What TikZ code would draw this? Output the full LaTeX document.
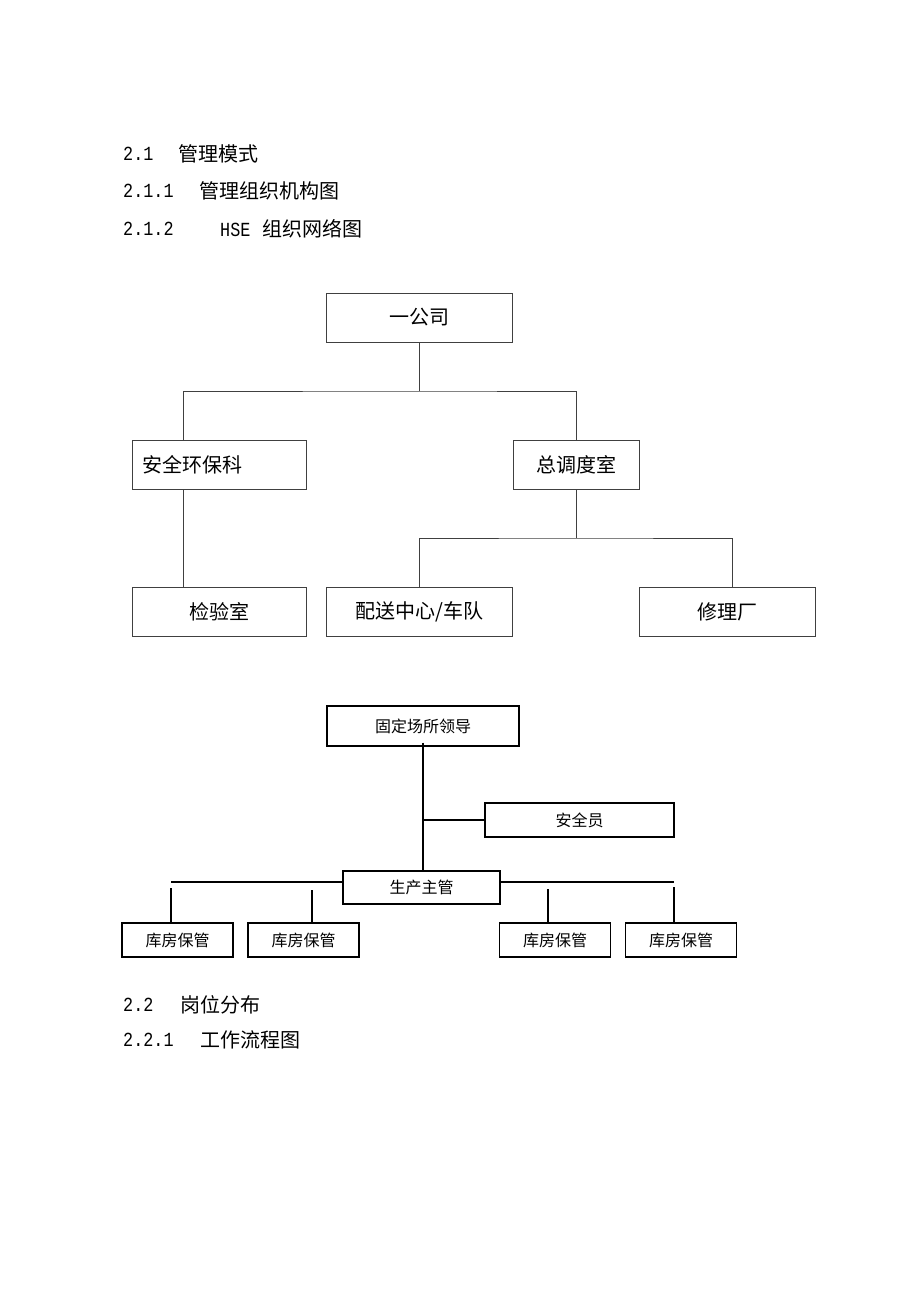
\documentclass[tikz,border=0pt]{standalone}
\usepackage{fontspec}
\setmainfont{Noto Sans CJK SC}
\newfontfamily\numfont[FakeStretch=0.84]{Liberation Mono}
\usepackage{tikz}
\usetikzlibrary{positioning}

\begin{document}
\begin{tikzpicture}[x=1pt, y=1pt, yscale=-1,
  head/.style={anchor=west, inner sep=0pt, font=\fontsize{20}{24}\selectfont},
  num/.style={anchor=west, inner sep=0pt, font=\numfont\fontsize{20}{24}\selectfont},
  boxa/.style={draw=black!75, line width=0.9pt, inner sep=0pt, minimum height=49pt, font=\fontsize{20}{24}\selectfont},
  boxb/.style={draw=black, line width=1.4pt, inner sep=0pt, font=\fontsize{16}{19}\selectfont},
  linka/.style={draw=black!75, line width=0.9pt},
  linkb/.style={draw=black, line width=1.4pt}]
\fill[white] (0,0) rectangle (920,1302);
\useasboundingbox (0,0) rectangle (920,1302);
\node[num] (n21) at (123,154) {2.1};
\node[head] (t21) at (178,154) {管理模式};
\node[num] (n211) at (123,191) {2.1.1};
\node[head] (t211) at (199,191) {管理组织机构图};
\node[num] (n212) at (123,229) {2.1.2};
\node[head] (t212) at (220,229) {{\numfont\fontsize{20}{24}\selectfont HSE}\hspace{12pt}组织网络图};
\node[num] (n22) at (123,1005) {2.2};
\node[head] (t22) at (180,1005) {岗位分布};
\node[num] (n221) at (123,1040) {2.2.1};
\node[head] (t221) at (200,1040) {工作流程图};
\node[boxa, minimum width=186pt] (gs) at (419.5,317.5) {一公司};
\node[boxa, text width=154pt, inner xsep=10pt, align=left] (aq) at (219,464.5) {安全环保科};
\node[boxa, minimum width=126pt] (zd) at (576,464.5) {总调度室};
\node[boxa, minimum width=174pt] (jy) at (219,612) {检验室};
\node[boxa, minimum width=186pt] (ps) at (419.5,612) {配送中心/车队};
\node[boxa, minimum width=176pt] (xl) at (727,612) {修理厂};
\coordinate (bus1) at (419.5,391);
\coordinate (bus2) at (576,538);
\draw[linka] (gs.south) -- (bus1);
\draw[linka] ([xshift=-35.5pt]aq.north) |- (bus1) -| (zd.north);
\draw[linka] ([xshift=-35.5pt]aq.south) -- ([xshift=-35.5pt]jy.north);
\draw[linka] (zd.south) -- (bus2);
\draw[linka] (ps.north) |- (bus2) -| ([xshift=5pt]xl.north);
\node[boxb, minimum width=192pt, minimum height=40pt] (ld) at (423,726) {固定场所领导};
\node[boxb, minimum width=189pt, minimum height=34pt] (ay) at (579.5,820) {安全员};
\node[boxb, minimum width=157pt, minimum height=33pt] (sc) at (421.5,887.5) {生产主管};
\node[boxb, minimum width=111pt, minimum height=34pt] (k1) at (177.5,940) {库房保管};
\node[boxb, minimum width=111pt, minimum height=34pt] (k2) at (303.5,940) {库房保管};
\node[boxb, minimum width=111pt, minimum height=34pt] (k3) at (555,940) {库房保管};
\node[boxb, minimum width=111pt, minimum height=34pt] (k4) at (681,940) {库房保管};
\coordinate (bl) at (171,882);
\coordinate (br) at (674,882);
\draw[linkb] ([yshift=-4pt]ld.south) -- (ld.south |- sc.north);
\draw[linkb] (ld.south |- ay.west) -- (ay.west);
\draw[linkb] (bl) -- (sc.west |- bl);
\draw[linkb] (sc.east |- bl) -- (br);
\draw[linkb] ([xshift=-6.5pt]k1.north) -- ++(0,-34);
\draw[linkb] ([xshift=8.5pt]k2.north) -- ++(0,-32);
\draw[linkb] ([xshift=-7pt]k3.north) -- ++(0,-33);
\draw[linkb] ([xshift=-7pt]k4.north) -- ++(0,-35);
\end{tikzpicture}
\end{document}
